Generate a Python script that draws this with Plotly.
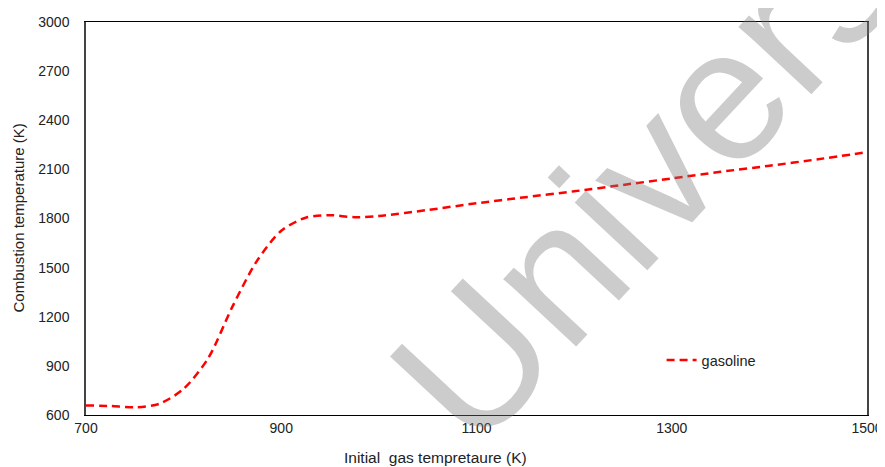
import plotly.graph_objects as go

# Data
initial_temp = [700, 725, 750, 775, 800, 825, 850, 875, 900, 925, 950, 975, 1000,
                1050, 1100, 1150, 1200, 1250, 1300, 1350, 1400, 1450, 1500]
combustion_temp = [658, 655, 647, 668, 760, 945, 1262, 1540, 1725, 1805, 1820, 1808, 1815,
                   1852, 1893, 1930, 1966, 2005, 2045, 2085, 2122, 2162, 2205]
series_name = "gasoline"
x_ticks = [700, 900, 1100, 1300, 1500]
y_ticks = [600, 900, 1200, 1500, 1800, 2100, 2400, 2700, 3000]
x_title = "Initial  gas tempretaure (K)"
y_title = "Combustion temperature (K)"
watermark = "Univers"

FONT = "Liberation Sans, Arial, sans-serif"

fig = go.Figure()
fig.add_trace(go.Scatter(
    x=initial_temp, y=combustion_temp, name=series_name, mode="lines",
    line=dict(color="#ff0000", width=2.5, dash="8px,5px", shape="spline", smoothing=0.8),
))

# page body has an 8px margin, so the figure is sized 8px smaller
fig.update_layout(
    width=877, height=459,
    margin=dict(l=78, r=18, t=14, b=52, autoexpand=False),
    paper_bgcolor="white", plot_bgcolor="white",
    font=dict(family=FONT, size=14, color="#222"),
    showlegend=True,
    legend=dict(x=0.737, y=0.14, xanchor="left", yanchor="middle",
                bgcolor="rgba(0,0,0,0)", font=dict(size=14.5, family=FONT, color="#222")),
    xaxis=dict(range=[700, 1500], tickvals=x_ticks, showgrid=False, zeroline=False,
               showline=True, linecolor="#000", linewidth=1.2, mirror=True,
               ticks="", tickfont=dict(size=14), automargin=False),
    yaxis=dict(range=[600, 3000], tickvals=y_ticks, showgrid=False, zeroline=False,
               showline=True, linecolor="#444", linewidth=1.5, mirror=True,
               ticks="", tickfont=dict(size=14), ticklabelstandoff=12, automargin=False),
)

# Axis titles placed as annotations to match reference positions
fig.add_annotation(text=x_title, xref="paper", yref="paper", x=0.448, y=-0.107,
                   xanchor="center", yanchor="middle", showarrow=False,
                   font=dict(family=FONT, size=15.5, color="#222"))
fig.add_annotation(text=y_title, xref="paper", yref="paper", x=(10 - 78) / 781, y=0.5,
                   xanchor="center", yanchor="middle", showarrow=False, textangle=-90,
                   font=dict(family=FONT, size=15, color="#222"))

# Watermark text
fig.add_annotation(
    text=watermark, xref="paper", yref="paper", x=0.715, y=0.603,
    xanchor="center", yanchor="middle",
    showarrow=False, textangle=-47,
    font=dict(family="Liberation Sans, Arial", size=188, color="rgba(120,120,120,0.38)"),
)

fig.write_html("out.html")
